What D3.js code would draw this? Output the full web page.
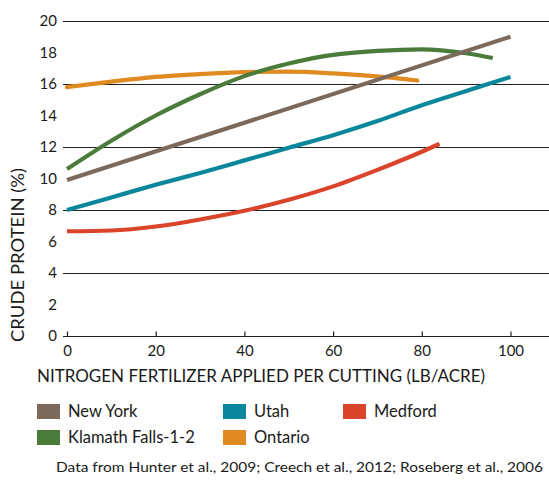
<!DOCTYPE html>
<html><head><meta charset="utf-8">
<script src="https://cdn.jsdelivr.net/npm/d3@7"></script>
<style>body{margin:0;background:#fff}svg{display:block}text{font-family:Lato,"Open Sans",sans-serif;fill:#1a1a1a}</style>
</head><body><svg id="c" width="549" height="481"></svg>
<script>
const xTicks = [0, 20, 40, 60, 80, 100];
const yTicks = [0, 2, 4, 6, 8, 10, 12, 14, 16, 18, 20];
const gridValues = [0, 4, 8, 12, 16, 20];
const seriesNames = ["New York", "Utah", "Medford", "Klamath Falls-1-2", "Ontario"];
const seriesColors = ["#7b6a5c", "#0b879b", "#d9442a", "#4a7b3b", "#e08b22"];
const newYorkX = [0, 100];
const newYorkY = [9.9, 19.0];
const utahX = [0, 10, 20, 30, 40, 50, 60, 70, 80, 90, 100];
const utahY = [8.0, 8.8, 9.6, 10.35, 11.15, 11.95, 12.75, 13.65, 14.65, 15.55, 16.45];
const medfordX = [0, 10, 20, 30, 40, 50, 60, 70, 80, 84];
const medfordY = [6.65, 6.7, 6.95, 7.4, 7.95, 8.65, 9.5, 10.55, 11.7, 12.2];
const klamathX = [0, 10, 20, 30, 40, 50, 60, 70, 80, 90, 96];
const klamathY = [10.6, 12.4, 14.0, 15.35, 16.5, 17.3, 17.85, 18.1, 18.2, 17.95, 17.65];
const ontarioX = [0, 10, 20, 30, 40, 50, 60, 70, 79];
const ontarioY = [15.8, 16.15, 16.45, 16.63, 16.75, 16.78, 16.67, 16.48, 16.22];
const legendOrder = ["New York", "Utah", "Medford", "Klamath Falls-1-2", "Ontario"];
const xTitle = "NITROGEN FERTILIZER APPLIED PER CUTTING (LB/ACRE)";
const yTitle = "CRUDE PROTEIN (%)";
const source = "Data from Hunter et al., 2009; Creech et al., 2012; Roseberg et al., 2006";

const svg = d3.select("#c");
const x = d3.scaleLinear().domain([0, 100]).range([67, 510.5]);
const y = d3.scaleLinear().domain([0, 20]).range([336, 21]);
const color = d3.scaleOrdinal().domain(seriesNames).range(seriesColors);

// gridlines
svg.append("g").selectAll("line").data(gridValues).join("line")
  .attr("x1", 63).attr("x2", 549)
  .attr("y1", d => Math.round(y(d)) + 0.5).attr("y2", d => Math.round(y(d)) + 0.5)
  .attr("stroke", "#222").attr("stroke-width", 1.2);

// y labels
svg.append("g").selectAll("text").data(yTicks).join("text")
  .attr("x", 57).attr("y", d => y(d)).attr("dy", "0.35em")
  .attr("text-anchor", "end").attr("font-size", 15).text(d => d);

// x axis ticks (upward)
const xAxis = d3.axisBottom(x).tickValues(xTicks).tickSize(-5).tickPadding(10).tickSizeOuter(0);
const gx = svg.append("g").attr("transform", `translate(0,${Math.round(y(0)) + 0.5})`).call(xAxis);
gx.select(".domain").remove();
gx.selectAll(".tick line").attr("stroke", "#222").attr("stroke-width", 1.2);
gx.selectAll(".tick text").attr("font-size", 15).attr("font-family", "Lato,'Open Sans',sans-serif").attr("fill", "#1a1a1a").attr("dy", "0.6em");

// lines
const data = [
  {name: "Ontario", xs: ontarioX, ys: ontarioY},
  {name: "Klamath Falls-1-2", xs: klamathX, ys: klamathY},
  {name: "Medford", xs: medfordX, ys: medfordY},
  {name: "Utah", xs: utahX, ys: utahY},
  {name: "New York", xs: newYorkX, ys: newYorkY}
];
const line = d3.line().x(d => x(d[0])).y(d => y(d[1])).curve(d3.curveMonotoneX);
svg.append("g").selectAll("path").data(data).join("path")
  .attr("d", d => line(d.xs.map((v, i) => [v, d.ys[i]])))
  .attr("fill", "none").attr("stroke", d => color(d.name))
  .attr("stroke-width", 4.2).attr("stroke-linecap", d => d.name === "Ontario" ? "round" : "butt");

// titles
svg.append("text").attr("x", 261).attr("y", 382).attr("text-anchor", "middle")
  .attr("font-size", 16.5).attr("textLength", 448).attr("lengthAdjust", "spacingAndGlyphs").text(xTitle);
svg.append("text").attr("transform", "translate(24,255) rotate(-90)").attr("text-anchor", "middle")
  .attr("font-size", 16.5).attr("textLength", 174).attr("lengthAdjust", "spacingAndGlyphs").text(yTitle);

// legend
const legPos = {
  "New York": [37, 404], "Utah": [223, 404], "Medford": [343, 404],
  "Klamath Falls-1-2": [37, 430], "Ontario": [223, 430]
};
const lg = svg.append("g").selectAll("g").data(legendOrder).join("g")
  .attr("transform", d => `translate(${legPos[d][0]},${legPos[d][1]})`);
lg.append("rect").attr("width", 23).attr("height", 15).attr("fill", d => color(d));
lg.append("text").attr("x", 31).attr("y", 7.5).attr("dy", "0.36em").attr("font-size", 16.5).text(d => d);

svg.append("text").attr("x", 543).attr("y", 472).attr("text-anchor", "end")
  .attr("font-size", 14).attr("textLength", 487).attr("lengthAdjust", "spacingAndGlyphs").text(source);
</script></body></html>
